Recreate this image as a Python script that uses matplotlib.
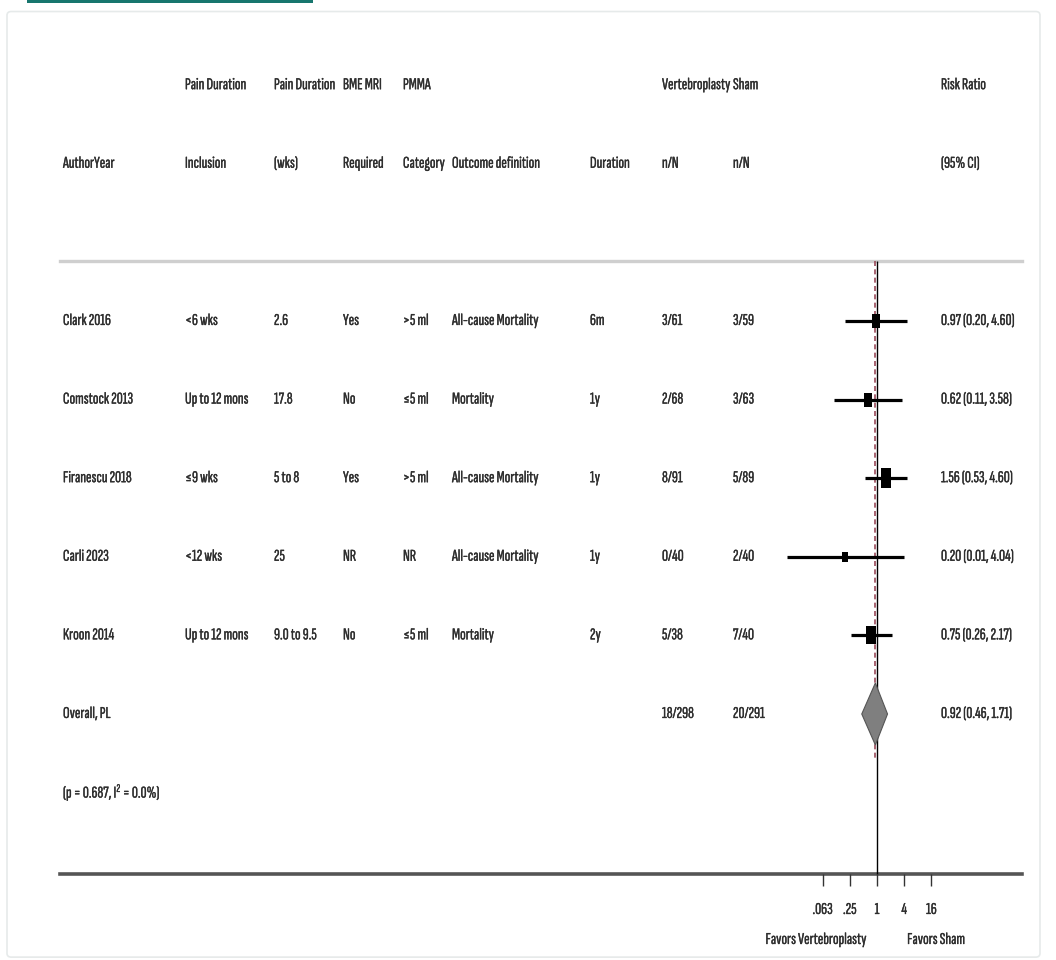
import matplotlib
matplotlib.use("Agg")
import matplotlib.pyplot as plt
import numpy as np
from matplotlib.path import Path
from matplotlib.patches import Polygon, FancyBboxPatch, Rectangle
import matplotlib.transforms as mtransforms
import matplotlib.patheffects as pe

plt.rcParams['font.family'] = ['Sofia Sans Extra Condensed', 'Liberation Sans', 'DejaVu Sans']
plt.rcParams['mathtext.default'] = 'regular'

# ---- study data ----
studies = ["Clark 2016", "Comstock 2013", "Firanescu 2018", "Carli 2023", "Kroon 2014"]
pain_incl = ["<6 wks", "Up to 12 mons", "≤9 wks", "<12 wks", "Up to 12 mons"]
pain_wks = ["2.6", "17.8", "5 to 8", "25", "9.0 to 9.5"]
bme_mri = ["Yes", "No", "Yes", "NR", "No"]
pmma = [">5 ml", "≤5 ml", ">5 ml", "NR", "≤5 ml"]
outcome = ["All-cause Mortality", "Mortality", "All-cause Mortality", "All-cause Mortality", "Mortality"]
duration = ["6m", "1y", "1y", "1y", "2y"]
vp_nN = ["3/61", "2/68", "8/91", "0/40", "5/38"]
sham_nN = ["3/59", "3/63", "5/89", "2/40", "7/40"]
rr = [0.97, 0.62, 1.56, 0.20, 0.75]
rr_lo = [0.20, 0.11, 0.53, 0.01, 0.26]
rr_hi = [4.60, 3.58, 4.60, 4.04, 2.17]
weights = [16.1, 16.2, 32.9, 8.2, 26.6]

overall_label = "Overall, PL"
overall_vp = "18/298"
overall_sham = "20/291"
overall_rr, overall_lo, overall_hi = 0.92, 0.46, 1.71
het_text = r"(p = 0.687, I$^{2}$ = 0.0%)"

tick_vals = [0.0625, 0.25, 1, 4, 16]
tick_labels = [".063", ".25", "1", "4", "16"]

header1 = ["", "Pain Duration", "Pain Duration", "BME MRI", "PMMA", "", "", "Vertebroplasty", "Sham", "Risk Ratio"]
header2 = ["AuthorYear", "Inclusion", "(wks)", "Required", "Category", "Outcome definition", "Duration", "n/N", "n/N", "(95% CI)"]

# ---- figure ----
W, H = 1056, 960
fig = plt.figure(figsize=(W / 100, H / 100), dpi=100)
ax = fig.add_axes([0, 0, 1, 1])
ax.set_xscale('log', base=2)
px_per = 13.6          # pixels per doubling
x_one = 877            # pixel position of RR = 1
ax.set_xlim(2 ** (-x_one / px_per), 2 ** ((W - x_one) / px_per))
row_px, row0 = 78.6, 321
ax.set_ylim((H - row0) / row_px, -row0 / row_px)
ax.axis('off')

def fx(px):
    return px / W

# window frame and top accent
ax.add_patch(FancyBboxPatch((7 / W, 0.003), (1040 - 7) / W, 0.985,
                            boxstyle="round,pad=0,rounding_size=0.004",
                            transform=ax.transAxes, fill=False,
                            edgecolor="#e6eaea", lw=1.2, zorder=0))
ax.add_patch(Rectangle((27 / W, 1 - 3 / H), (313 - 27) / W, 3 / H,
                       transform=ax.transAxes, color="#17766e", lw=0, zorder=1))

tr = mtransforms.blended_transform_factory(ax.transAxes, ax.transData)
col_x = [63, 185, 274, 343, 403, 452, 590, 662, 733, 941]
fs = 12.0
tc = "#2e2e2e"
txt_fx = [pe.withStroke(linewidth=0.22, foreground=tc)]
kw = dict(ha='left', va='center', fontsize=fs, color=tc, path_effects=txt_fx)

for cx, h1, h2 in zip(col_x, header1, header2):
    if h1:
        ax.text(fx(cx), -3, h1, transform=tr, **kw)
    ax.text(fx(cx), -2, h2, transform=tr, **kw)

for i in range(len(studies)):
    est = f"{rr[i]:.2f} ({rr_lo[i]:.2f}, {rr_hi[i]:.2f})"
    vals = [studies[i], pain_incl[i], pain_wks[i], bme_mri[i], pmma[i],
            outcome[i], duration[i], vp_nN[i], sham_nN[i], est]
    for cx, v in zip(col_x, vals):
        ax.text(fx(cx), i, v, transform=tr, **kw)

n = len(studies)
ax.text(fx(col_x[0]), n, overall_label, transform=tr, **kw)
ax.text(fx(col_x[7]), n, overall_vp, transform=tr, **kw)
ax.text(fx(col_x[8]), n, overall_sham, transform=tr, **kw)
ax.text(fx(col_x[9]), n, f"{overall_rr:.2f} ({overall_lo:.2f}, {overall_hi:.2f})",
        transform=tr, **kw)
ax.text(fx(col_x[0]), n + 1, het_text, transform=tr, **kw)

# separator lines
y_top = (261 - row0) / row_px
y_bot = (874 - row0) / row_px
ax.axhline(y_top, xmin=fx(60), xmax=fx(1022), color="#cfcfcf", lw=2.4, zorder=2)
ax.axhline(y_bot, xmin=fx(60), xmax=fx(1022), color="#555555", lw=2.6, zorder=2)

# null line and overall-estimate line
ax.vlines(1, y_top, y_bot, color="black", lw=1.0, zorder=3)
ax.vlines(overall_rr, y_top, (758 - row0) / row_px, color="#9a4a5a", lw=1.2,
          linestyles=(0, (3, 2)), zorder=3)

# confidence intervals and weighted boxes
ys = np.arange(n)
ax.hlines(ys, rr_lo, rr_hi, color="black", lw=2.3, zorder=4)
box = Path([(-0.25, -0.5), (0.25, -0.5), (0.25, 0.5), (-0.25, 0.5), (-0.25, -0.5)],
           [Path.MOVETO, Path.LINETO, Path.LINETO, Path.LINETO, Path.CLOSEPOLY])
for y, r, w in zip(ys, rr, weights):
    ax.plot(r, y, marker=box, markersize=2.62 * np.sqrt(w), color="black",
            markeredgewidth=0, zorder=5)

# pooled diamond
dh = 31 / row_px
ax.add_patch(Polygon([(overall_lo, n), (overall_rr, n - dh), (overall_hi, n), (overall_rr, n + dh)],
                     closed=True, facecolor="#7f7f7f", edgecolor="#555555", lw=0.8, zorder=5))

# axis ticks and labels
tick_len = 12 / row_px
ax.vlines(tick_vals, y_bot, y_bot + tick_len, color="#333333", lw=1.0, zorder=3)
ckw = dict(kw, ha='center')
for v, lab in zip(tick_vals, tick_labels):
    ax.text(v, (910 - row0) / row_px, lab, **ckw)
ax.text(2 ** ((816 - x_one) / px_per), (940 - row0) / row_px, "Favors Vertebroplasty", **ckw)
ax.text(2 ** ((936 - x_one) / px_per), (940 - row0) / row_px, "Favors Sham", **ckw)

fig.savefig("out.png", dpi=100, facecolor="white")
